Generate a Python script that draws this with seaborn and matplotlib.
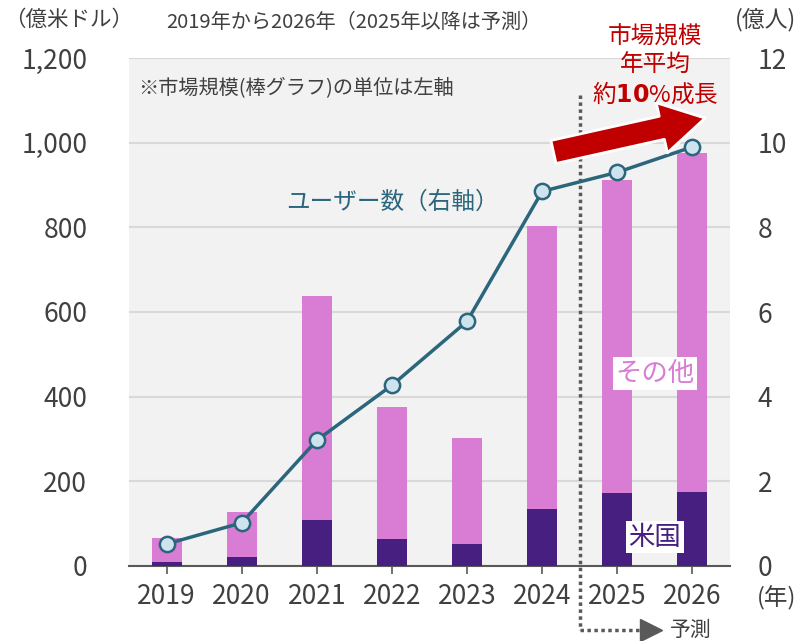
import numpy as np
import pandas as pd
import matplotlib
matplotlib.use('Agg')
import matplotlib.pyplot as plt
import seaborn as sns

years = ['2019', '2020', '2021', '2022', '2023', '2024', '2025', '2026']
market_total = [66, 128, 638, 375, 302, 803, 912, 975]   # 億米ドル
market_us = [10, 22, 109, 64, 52, 135, 172, 175]
users = [0.52, 1.02, 2.97, 4.27, 5.78, 8.85, 9.30, 9.90]   # 億人

c_us = '#461f80'
c_other = '#d87dd3'
c_line = '#2b667d'
c_marker = '#cde3ee'
c_text = '#404040'
c_red = '#c00000'

sns.set_theme(style='white')
plt.rcParams['font.family'] = ['Noto Sans CJK JP', 'DejaVu Sans']

df = pd.DataFrame({'year': years, 'total': market_total, 'us': market_us, 'users': users})

fig = plt.figure(figsize=(8, 6.41), dpi=100)
ax = fig.add_axes([129 / 800, 1 - 566 / 641, (730 - 129) / 800, (566 - 58) / 641])
ax.set_facecolor('#f2f2f2')

sns.barplot(data=df, x='year', y='total', color=c_other, width=0.4, saturation=1, ax=ax,
            zorder=2, linewidth=0)
sns.barplot(data=df, x='year', y='us', color=c_us, width=0.4, saturation=1, ax=ax,
            zorder=3, linewidth=0)

ax.set_xlim(-0.5, 7.5)
ax.set_ylim(0, 1200)
ax.set_yticks(range(0, 1201, 200))
ax.set_yticklabels(['{:,}'.format(v) for v in range(0, 1201, 200)])
ax.grid(axis='y', color='#d9d9d9', lw=1.5, zorder=0)
ax.set_axisbelow(True)
ax.set_xlabel('')
ax.set_ylabel('')
for s in ['top', 'left', 'right']:
    ax.spines[s].set_visible(False)
ax.spines['bottom'].set_color('#595959')
ax.spines['bottom'].set_linewidth(1.5)
ax.tick_params(axis='x', length=6, width=1.2, color='#595959', labelsize=19, labelcolor=c_text, pad=6, bottom=True)
ax.tick_params(axis='y', length=0, labelsize=19, labelcolor=c_text, pad=30)

ax2 = ax.twinx()
sns.lineplot(x=np.arange(len(years)), y=users, ax=ax2, color=c_line, lw=2.5, marker='o',
             markersize=11, markerfacecolor=c_marker, markeredgecolor=c_line, markeredgewidth=1.8, zorder=5)
ax2.set_ylim(0, 12)
ax2.set_yticks(range(0, 13, 2))
ax2.tick_params(axis='y', length=0, labelsize=19, labelcolor=c_text, pad=20)
for s in ['top', 'left', 'right', 'bottom']:
    ax2.spines[s].set_visible(False)
ax2.set_xlim(-0.5, 7.5)

# forecast divider
ax.plot([5.5, 5.5], [0.927, -0.125], transform=ax.get_xaxis_transform(), color='#595959',
        lw=2.5, ls=(0, (1, 1)), clip_on=False, zorder=4)
ax.plot([5.5, 6.3], [-0.125, -0.125], transform=ax.get_xaxis_transform(), color='#595959',
        lw=2.5, ls=(0, (1, 1)), clip_on=False, zorder=4)
ax.plot([6.45], [-0.125], transform=ax.get_xaxis_transform(), marker='>', markersize=16,
        color='#595959', clip_on=False)
ax.text(6.7, -0.125, '予測', transform=ax.get_xaxis_transform(), fontsize=15, color=c_text,
        va='center', ha='left')

# growth arrow
ax2.annotate('', xy=(7.17, 10.58), xytext=(5.15, 9.78),
             arrowprops=dict(arrowstyle='simple,head_length=1.6,head_width=1.85,tail_width=0.85',
                             mutation_scale=20, fc=c_red, ec='white', lw=2, shrinkA=0, shrinkB=0),
             zorder=6)

# in-plot labels
ax2.text(3.0, 8.6, 'ユーザー数（右軸）', color=c_line, fontsize=17, ha='center', va='center')
ax.text(6.5, 455, 'その他', color=c_other, fontsize=19, ha='center', va='center', zorder=6,
        bbox=dict(boxstyle='square,pad=0.1', fc='white', ec='none'))
ax.text(6.5, 68, '米国', color=c_us, fontsize=19, ha='center', va='center', zorder=6,
        bbox=dict(boxstyle='square,pad=0.1', fc='white', ec='none'))
ax.text(0.015, 0.94, '※市場規模(棒グラフ)の単位は左軸', transform=ax.transAxes, fontsize=14.5,
        color=c_text, ha='left', va='center')

# figure-level texts
fig.text(4 / 800, 1 - 20 / 641, '（億米ドル）', fontsize=15.5, color=c_text, ha='left', va='center')
fig.text(796 / 800, 1 - 20 / 641, '(億人)', fontsize=16.5, color=c_text, ha='right', va='center')
fig.text(354 / 800, 1 - 22 / 641, '2019年から2026年（2025年以降は予測）', fontsize=14.5,
         color=c_text, ha='center', va='center')
fig.text(796 / 800, 1 - 598 / 641, '(年)', fontsize=17, color=c_text, ha='right', va='center')
fig.text(655 / 800, 1 - 37 / 641, '市場規模', fontsize=17, color=c_red, ha='center', va='center')
fig.text(655 / 800, 1 - 65 / 641, '年平均', fontsize=17, color=c_red, ha='center', va='center')
fig.text(655 / 800, 1 - 93 / 641, r'約$\bf{10}$%成長', fontsize=17, color=c_red, ha='center', va='center')

plt.savefig('out.png', dpi=100)
